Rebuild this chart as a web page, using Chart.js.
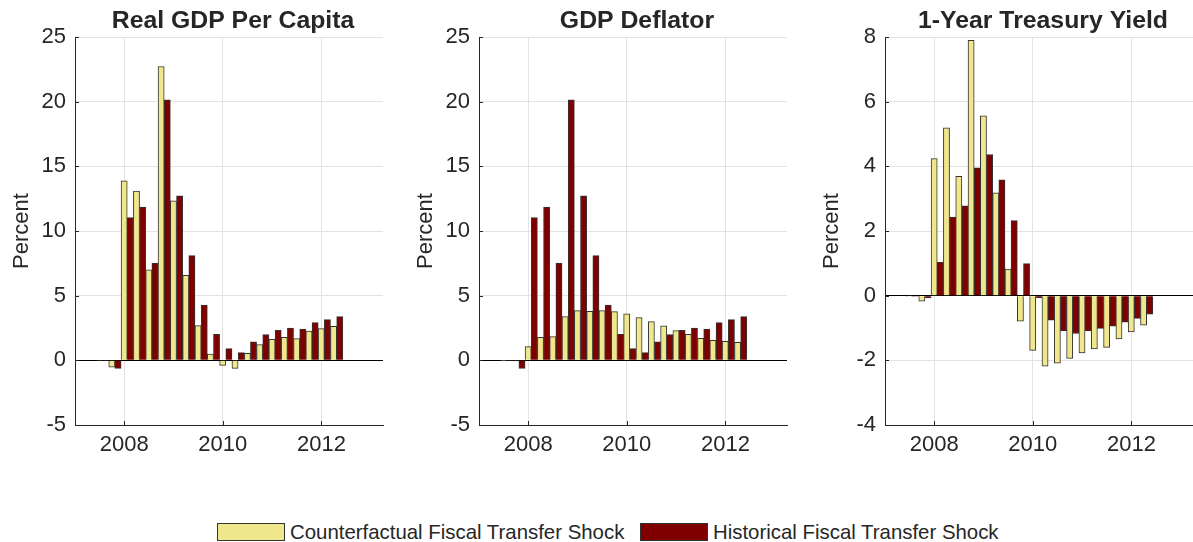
<!DOCTYPE html>
<html>
<head>
<meta charset="utf-8">
<title>Counterfactual vs historical fiscal transfer shock</title>
<script src="https://cdn.jsdelivr.net/npm/chart.js@4/dist/chart.umd.min.js"></script>
<style>
  body { margin: 0; width: 1193px; height: 542px; overflow: hidden; background: #fff; position: relative;
         font-family: "Liberation Sans", Arial, sans-serif; color: #262626; }
  .panel { position: absolute; top: 0; }
  .legend-item { position: absolute; top: 520px; height: 24px; display: flex; align-items: center; font-size: 20.4px; }
  .swatch { width: 66px; height: 16px; border: 1px solid #333; margin-right: 5px; }
</style>
</head>
<body>

<div class="panel" style="left:0px"><canvas id="gdp" width="400" height="470"></canvas></div>
<div class="panel" style="left:404px"><canvas id="deflator" width="400" height="470"></canvas></div>
<div class="panel" style="left:810px"><canvas id="yield" width="400" height="470"></canvas></div>

<div class="legend-item" style="left:217px"><div class="swatch" style="background:#f0e68c"></div>Counterfactual Fiscal Transfer Shock</div>
<div class="legend-item" style="left:640px"><div class="swatch" style="background:#800000"></div>Historical Fiscal Transfer Shock</div>

<script>
// --- DATA ---
const quarters = ['2007Q3', '2007Q4', '2008Q1', '2008Q2', '2008Q3', '2008Q4', '2009Q1', '2009Q2', '2009Q3', '2009Q4',
                  '2010Q1', '2010Q2', '2010Q3', '2010Q4', '2011Q1', '2011Q2', '2011Q3', '2011Q4', '2012Q1', '2012Q2'];
const xTicks = [2008, 2010, 2012];

const gdpCounter = [-0.03, -0.52, 13.88, 13.08, 6.99, 22.72, 12.33, 6.58, 2.68, 0.49,
                    -0.39, -0.62, 0.54, 1.21, 1.62, 1.78, 1.68, 2.27, 2.45, 2.63];
const gdpHist = [-0.02, -0.62, 11.04, 11.84, 7.51, 20.14, 12.72, 8.10, 4.28, 2.01,
                 0.90, 0.59, 1.44, 1.99, 2.32, 2.50, 2.42, 2.91, 3.15, 3.38];

const deflCounter = [-0.02, -0.05, 1.06, 1.78, 1.83, 3.38, 3.84, 3.79, 3.84, 3.77,
                     3.59, 3.30, 2.99, 2.66, 2.30, 2.01, 1.70, 1.55, 1.47, 1.39];
const deflHist = [-0.02, -0.62, 11.04, 11.84, 7.51, 20.14, 12.72, 8.10, 4.28, 2.01,
                  0.90, 0.59, 1.44, 1.99, 2.32, 2.50, 2.42, 2.91, 3.15, 3.38];

const yieldCounter = [-0.01, -0.17, 4.24, 5.19, 3.69, 7.90, 5.56, 3.18, 0.82, -0.79,
                      -1.69, -2.18, -2.09, -1.94, -1.77, -1.65, -1.60, -1.34, -1.12, -0.91];
const yieldHist = [-0.01, -0.07, 1.03, 2.43, 2.78, 3.95, 4.36, 3.58, 2.32, 0.99,
                   -0.06, -0.76, -1.09, -1.17, -1.09, -1.01, -0.94, -0.82, -0.70, -0.57];

// quarter label -> decimal year (dates sit a few weeks into the quarter)
function quarterToYear(label) {
    let year = parseInt(label.slice(0, 4));
    let q = parseInt(label.slice(5));
    return year + (q - 1) / 4 + 0.06;
}
const dates = quarters.map(quarterToYear);

// --- STYLE ---
const TEXT = '#262626';
const YELLOW = '#f0e68c';
const MAROON = '#800000';
const GRID = '#e2e2e2';

// title centred over the plot area
const panelTitle = {
    id: 'panelTitle',
    afterDraw(chart, args, opts) {
        const { ctx, chartArea } = chart;
        ctx.save();
        ctx.font = 'bold 24.8px "Liberation Sans", Arial, sans-serif';
        ctx.fillStyle = TEXT;
        ctx.textAlign = 'center';
        ctx.textBaseline = 'alphabetic';
        ctx.fillText(opts.text, (chartArea.left + chartArea.right) / 2 + 4, 28);
        ctx.restore();
    }
};

// small inward tick marks like the original
const innerTicks = {
    id: 'innerTicks',
    afterDraw(chart) {
        const { ctx, chartArea, scales } = chart;
        ctx.save();
        ctx.strokeStyle = TEXT;
        ctx.lineWidth = 1;
        ctx.beginPath();
        scales.y.ticks.forEach((t, i) => {
            let y = Math.round(scales.y.getPixelForTick(i)) + 0.5;
            ctx.moveTo(chartArea.left, y);
            ctx.lineTo(chartArea.left + 4, y);
        });
        scales.x.ticks.forEach((t, i) => {
            let x = Math.round(scales.x.getPixelForTick(i)) + 0.5;
            ctx.moveTo(x, chartArea.bottom);
            ctx.lineTo(x, chartArea.bottom - 4);
        });
        ctx.stroke();
        ctx.restore();
    }
};

function makePanel(id, title, counter, hist, yMin, yMax, yStep) {
    new Chart(document.getElementById(id), {
        type: 'bar',
        data: {
            labels: dates,
            datasets: [
                { label: 'Counterfactual Fiscal Transfer Shock', data: counter, backgroundColor: YELLOW },
                { label: 'Historical Fiscal Transfer Shock', data: hist, backgroundColor: MAROON }
            ]
        },
        options: {
            responsive: false,
            animation: false,
            layout: { padding: { top: 37, right: 17, left: 0, bottom: 0 } },
            datasets: {
                bar: { categoryPercentage: 1, barPercentage: 1, borderWidth: 1, borderColor: '#333' }
            },
            plugins: {
                legend: { display: false },
                tooltip: { enabled: false },
                panelTitle: { text: title }
            },
            scales: {
                x: {
                    type: 'linear',
                    min: 2007,
                    max: 2013.25,
                    offset: false,
                    afterBuildTicks: s => { s.ticks = xTicks.map(v => ({ value: v })); },
                    ticks: { color: TEXT, font: { size: 22 }, padding: 7, maxRotation: 0, callback: v => String(v) },
                    grid: { color: GRID, drawTicks: false, offset: false },
                    border: { color: TEXT },
                    afterFit: s => { s.height = 45; }
                },
                y: {
                    min: yMin,
                    max: yMax,
                    ticks: { stepSize: yStep, color: TEXT, font: { size: 22 }, padding: 9 },
                    grid: { color: c => c.tick.value === 0 ? '#000' : GRID, drawTicks: false },
                    border: { color: TEXT },
                    title: { display: true, text: 'Percent', color: TEXT, font: { size: 22 }, padding: { top: 9, bottom: 0 } },
                    afterFit: s => { s.width = 75; }
                }
            }
        },
        plugins: [panelTitle, innerTicks]
    });
}

makePanel('gdp', 'Real GDP Per Capita', gdpCounter, gdpHist, -5, 25, 5);
makePanel('deflator', 'GDP Deflator', deflCounter, deflHist, -5, 25, 5);
makePanel('yield', '1-Year Treasury Yield', yieldCounter, yieldHist, -4, 8, 2);
</script>
</body>
</html>
